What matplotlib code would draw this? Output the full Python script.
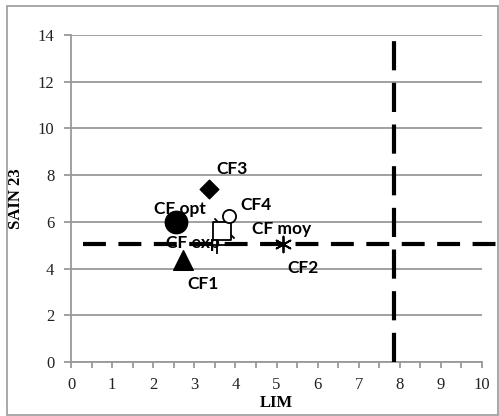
import matplotlib.pyplot as plt
from matplotlib.patches import Rectangle

# points (LIM, SAIN 23)
names = ["CF opt", "CF1", "CF3", "CF exp", "CF moy", "CF4", "CF4b", "CF2"]
lim = [2.55, 2.72, 3.35, 3.55, 3.67, 3.84, 3.72, 5.15]
sain = [6.0, 4.35, 7.4, 5.0, 5.6, 6.25, 5.75, 5.05]
markers = ["o", "^", "D", "+", "s", "o", "x", (6, 2, 0)]
filled = [True, True, True, False, False, False, False, False]
sizes = [260, 200, 90, 150, 150, 90, 210, 130]

# label text and position
lab_text = ["CF opt", "CF1", "CF3", "CF exp", "CF moy", "CF4", "CF2"]
lab_x = [2.65, 3.21, 3.92, 2.97, 5.13, 4.50, 5.65]
lab_y = [6.55, 3.34, 8.26, 5.09, 5.69, 6.72, 4.02]

h_ref = 5.05
v_ref = 7.86

fig = plt.figure(figsize=(4.99, 4.16), dpi=100)
ax = fig.add_axes([71 / 499, 1 - 362 / 416, (482 - 71) / 499, (362 - 35) / 416])

for x, y, m, f, s in zip(lim, sain, markers, filled, sizes):
    if m in ("+", "x") or isinstance(m, tuple):
        ax.scatter(x, y, marker=m, s=s, c="black", linewidths=1.3, zorder=3)
    elif f:
        ax.scatter(x, y, marker=m, s=s, c="black", zorder=4)
    else:
        ax.scatter(x, y, marker=m, s=s, facecolors="white", edgecolors="black",
                   linewidths=1.3, zorder=4)

for t, x, y in zip(lab_text, lab_x, lab_y):
    ax.text(x, y, t, ha="center", va="center", fontsize=12.5, fontweight="bold",
            family="Lato", zorder=5)

ax.plot([0.29, 10.45], [h_ref, h_ref], color="black", lw=3, dashes=(5.5, 3),
        clip_on=False, zorder=3)
ax.plot([v_ref, v_ref], [0, 13.75], color="black", lw=3, dashes=(7, 3),
        clip_on=False, zorder=3)

ax.set_xlim(0, 10)
ax.set_ylim(0, 14)
ax.set_xticks(range(0, 11))
ax.set_xticks([i + 0.5 for i in range(10)], minor=True)
ax.set_yticks(range(0, 15, 2))
ax.yaxis.grid(True, color="#999999", lw=1.3)
ax.set_axisbelow(True)
for side in ("top", "right"):
    ax.spines[side].set_visible(False)
for side in ("left", "bottom"):
    ax.spines[side].set_color("#999999")
    ax.spines[side].set_linewidth(1.3)
ax.tick_params(axis="both", which="both", color="#999999", width=1.3, length=4,
               labelsize=12, pad=7, labelcolor="#222222")
ax.tick_params(axis="y", length=5)
for lbl in ax.get_xticklabels() + ax.get_yticklabels():
    lbl.set_family("Liberation Serif")

ax.set_xlabel("LIM", family="Liberation Serif", fontweight="bold", fontsize=12,
              labelpad=1)
ax.set_ylabel("SAIN 23", family="Liberation Serif", fontweight="bold",
              fontsize=12, labelpad=10)

fig.patches.append(Rectangle((7 / 499, 1 / 416), 491 / 499, 409 / 416,
                             transform=fig.transFigure, fill=False,
                             edgecolor="#999999", lw=1.2))

fig.savefig("out.png", dpi=100)
